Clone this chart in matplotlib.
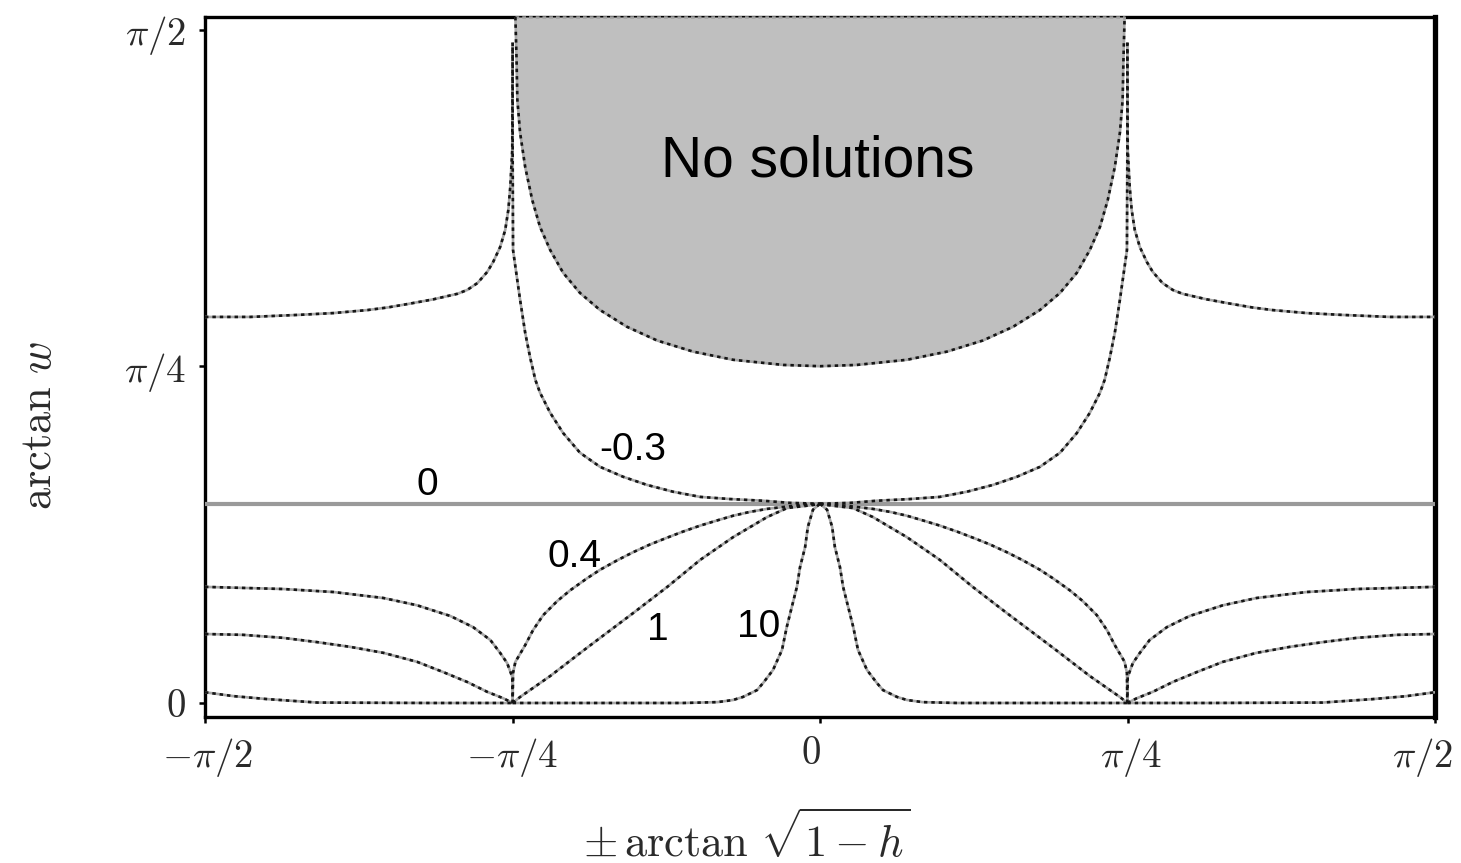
import numpy as np
import matplotlib
matplotlib.use("Agg")
import matplotlib.pyplot as plt
import matplotlib.transforms as mtransforms

plt.rcParams['mathtext.fontset'] = 'cm'
plt.rcParams['font.family'] = ['Liberation Sans', 'DejaVu Sans']

PI = np.pi

# ---------------- data (left half, x <= 0; the figure is mirror symmetric) -------------
# parameter -0.3 : outer branch (|x| > pi/4) and inner branch (|x| < pi/4)
x_out_m03 = [-1.5708, -1.455, -1.327, -1.243, -1.156, -1.105, -1.054, -0.988, -0.926,
             -0.901, -0.875, -0.850, -0.835, -0.817, -0.804, -0.796, -0.791, -0.786, -0.785]
y_out_m03 = [0.901, 0.901, 0.906, 0.910, 0.917, 0.923, 0.931, 0.942, 0.955,
             0.964, 0.980, 1.006, 1.029, 1.064, 1.104, 1.151, 1.205, 1.291, 1.541]
x_in_m03 = [-0.785, -0.785, -0.784, -0.778, -0.766, -0.753, -0.740, -0.727, -0.715, -0.689,
            -0.656, -0.613, -0.5615, -0.503, -0.442, -0.375, -0.306, -0.230, -0.145, -0.077, 0.0]
y_in_m03 = [1.541, 1.291, 1.057, 1.018, 0.941, 0.864, 0.805, 0.754, 0.724, 0.677,
            0.630, 0.584, 0.551, 0.528, 0.509, 0.493, 0.481, 0.476, 0.472, 0.467, 0.465]

# parameter 0 : constant
x_zero = [-PI / 2, PI / 2]
y_zero = [0.465, 0.465]

# parameter 0.4
x_out_04 = [-1.5708, -1.371, -1.243, -1.115, -1.029, -0.944, -0.886, -0.842, -0.817,
            -0.799, -0.786, -0.785]
y_out_04 = [0.271, 0.266, 0.259, 0.245, 0.228, 0.203, 0.177, 0.147, 0.117,
            0.093, 0.061, 0.0]
x_in_04 = [-0.785, -0.784, -0.778, -0.753, -0.733, -0.707, -0.671, -0.638, -0.595, -0.5615,
           -0.516, -0.477, -0.434, -0.390, -0.350, -0.306, -0.263, -0.222, -0.179, -0.135,
           -0.051, 0.0]
y_in_04 = [0.0, 0.070, 0.096, 0.135, 0.170, 0.205, 0.238, 0.263, 0.291, 0.311,
           0.334, 0.352, 0.370, 0.386, 0.400, 0.414, 0.426, 0.437, 0.446, 0.453,
           0.462, 0.465]

# parameter 1
x_out_1 = [-1.5708, -1.473, -1.371, -1.284, -1.200, -1.115, -1.029, -0.962, -0.901,
           -0.850, -0.809, -0.785]
y_out_1 = [0.161, 0.159, 0.152, 0.142, 0.131, 0.117, 0.096, 0.072, 0.049,
           0.026, 0.011, 0.0]
x_in_1 = [-0.785, -0.766, -0.689, -0.605, -0.5615, -0.477, -0.390, -0.306, -0.222,
          -0.135, -0.084, -0.018, 0.0]
y_in_1 = [0.0, 0.014, 0.063, 0.122, 0.152, 0.210, 0.271, 0.334, 0.387,
          0.434, 0.455, 0.462, 0.465]

# parameter 10
x_out_10 = [-1.5708, -1.498, -1.411, -1.284, -1.0, -0.785]
y_out_10 = [0.025, 0.016, 0.009, 0.001, 0.0, 0.0]
x_in_10 = [-0.785, -0.5615, -0.350, -0.262, -0.222, -0.197, -0.161, -0.145, -0.120,
           -0.097, -0.085, -0.072, -0.059, -0.051, -0.038, -0.031, -0.018, 0.0]
y_in_10 = [0.0, 0.0, 0.0, 0.002, 0.007, 0.014, 0.030, 0.047, 0.077,
           0.124, 0.177, 0.224, 0.271, 0.317, 0.364, 0.411, 0.451, 0.465]

# boundary of the "No solutions" region
x_ns = [-0.778, -0.775, -0.773, -0.766, -0.753, -0.735, -0.715, -0.689, -0.656, -0.613,
        -0.5615, -0.493, -0.416, -0.324, -0.222, -0.094, 0.0]
y_ns = [1.601, 1.500, 1.408, 1.331, 1.251, 1.174, 1.111, 1.057, 1.004, 0.957,
        0.917, 0.878, 0.846, 0.820, 0.801, 0.789, 0.786]

curve_labels = ['-0.3', '0', '0.4', '1', '10']
xtick_vals = [-PI / 2, -PI / 4, 0, PI / 4, PI / 2]
xtick_labels = [r'$-\pi/2$', r'$-\pi/4$', r'$0$', r'$\pi/4$', r'$\pi/2$']
ytick_vals = [0, PI / 4, PI / 2]
ytick_labels = [r'$0$', r'$\pi/4$', r'$\pi/2$']

# ---------------- figure ----------------
W, H = 1461, 863
fig = plt.figure(figsize=(W / 100, H / 100), dpi=100)
ax = fig.add_axes([205 / W, 1 - 717 / H, 1230 / W, 700 / H])
YMIN, YMAX = -0.0327, 1.601
ax.set_xlim(-PI / 2, PI / 2)
ax.set_ylim(YMIN, YMAX)


def mirror(x, y):
    x = np.asarray(x, float)
    y = np.asarray(y, float)
    return -x[::-1], y[::-1]


def dline(x, y, z=4):
    ax.plot(x, y, color='#a8a8a8', lw=1.9, solid_capstyle='butt', solid_joinstyle='round',
            zorder=z)
    ax.plot(x, y, color='#151515', lw=1.9, dashes=(1.3, 1.5), dash_capstyle='butt',
            zorder=z + 0.1)


# shaded region
xm, ym = mirror(x_ns, y_ns)
xs = np.concatenate([np.asarray(x_ns), xm])
ys = np.concatenate([np.asarray(y_ns), ym])
ax.fill_between(xs, ys, YMAX, color='#bfbfbf', lw=0, zorder=2.6)
dline(xs, ys, z=2.7)
ax.plot([xs[0], xs[-1]], [YMAX, YMAX], color='#a0a0a0', lw=1.8, dashes=(1.5, 1.2),
        zorder=2.8, clip_on=False)

# zero line
ax.plot(x_zero, y_zero, color='#9a9a9a', lw=3.0, zorder=3)

# curves
for xo, yo, xi, yi in [(x_out_m03, y_out_m03, x_in_m03, y_in_m03),
                       (x_out_04, y_out_04, x_in_04, y_in_04),
                       (x_out_1, y_out_1, x_in_1, y_in_1),
                       (x_out_10, y_out_10, x_in_10, y_in_10)]:
    dline(xo, yo)
    dline(xi, yi)
    dline(*mirror(xi, yi))
    dline(*mirror(xo, yo))

# curve labels
lab_kw = dict(fontsize=28, ha='center', va='baseline', color='black', zorder=6)
ax.text(-0.478, 0.567, curve_labels[0], **lab_kw)
ax.text(-1.002, 0.486, curve_labels[1], **lab_kw)
ax.text(-0.628, 0.317, curve_labels[2], **lab_kw)
ax.text(-0.413, 0.147, curve_labels[3], **lab_kw)
ax.text(-0.156, 0.154, curve_labels[4], **lab_kw)
ax.text(-0.006, 1.228, 'No solutions', fontsize=41, ha='center', va='baseline',
        color='black', zorder=6)

# ticks
ax.set_xticks(xtick_vals)
ax.set_xticklabels(xtick_labels)
ax.set_yticks(ytick_vals)
ax.set_yticklabels(ytick_labels)
ax.tick_params(axis='both', direction='out', length=4, width=1.8, labelsize=28,
               labelcolor='#2a2a2a')
ax.tick_params(axis='x', pad=10)
ax.tick_params(axis='y', pad=10)

# small horizontal shifts of some x tick labels, as in the reference
xshift_px = [3, 0, -9, 3, -13]
for lab, dx in zip(ax.get_xticklabels(), xshift_px):
    lab.set_transform(lab.get_transform() +
                      mtransforms.ScaledTranslation(dx / 100, 0, fig.dpi_scale_trans))

for side in ['left', 'bottom', 'top']:
    ax.spines[side].set_linewidth(2.4)
ax.spines['right'].set_linewidth(3.8)

ax.set_xlabel(r'$\pm\,\arctan\,\sqrt{1-h}$', fontsize=32, color='#2a2a2a', va='center')
ax.xaxis.set_label_coords((747 - 205) / 1230, (717 - 838) / 700)
ax.set_ylabel(r'$\arctan\,w$', fontsize=32, color='#2a2a2a', va='center')
ax.yaxis.set_label_coords((40 - 205) / 1230, (717 - 425) / 700)

fig.savefig('out.png', dpi=100)
